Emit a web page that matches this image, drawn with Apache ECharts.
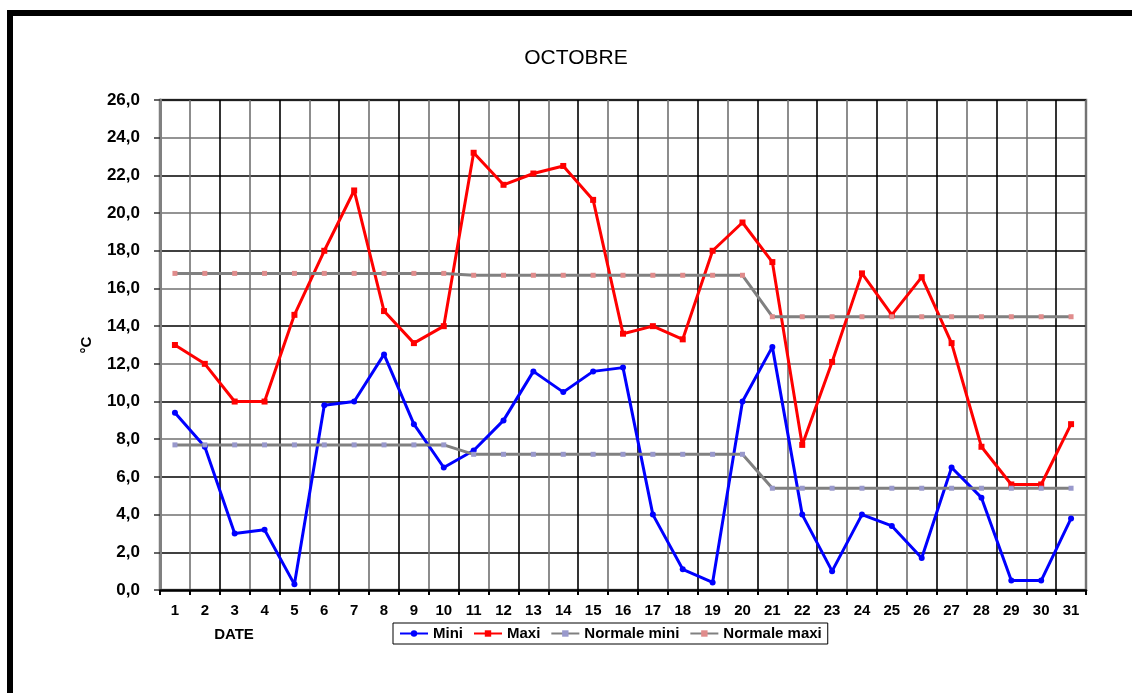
<!DOCTYPE html>
<html>
<head>
<meta charset="utf-8">
<title>OCTOBRE</title>
<script src="https://cdn.jsdelivr.net/npm/echarts@6/dist/echarts.min.js"></script>
<style>
  html, body { margin: 0; padding: 0; background: #fff; }
  #chart { width: 1132px; height: 693px; }
</style>
</head>
<body>
<div id="chart"></div>
<script>
// Days of the month
var days = ['1','2','3','4','5','6','7','8','9','10','11','12','13','14','15','16',
            '17','18','19','20','21','22','23','24','25','26','27','28','29','30','31'];

// Daily minimum temperatures (°C)
var mini = [9.4, 7.6, 3.0, 3.2, 0.3, 9.8, 10.0, 12.5, 8.8, 6.5, 7.4, 9.0, 11.6, 10.5, 11.6, 11.8,
            4.0, 1.1, 0.4, 10.0, 12.9, 4.0, 1.0, 4.0, 3.4, 1.7, 6.5, 4.9, 0.5, 0.5, 3.8];

// Daily maximum temperatures (°C)
var maxi = [13.0, 12.0, 10.0, 10.0, 14.6, 18.0, 21.2, 14.8, 13.1, 14.0, 23.2, 21.5, 22.1, 22.5, 20.7, 13.6,
            14.0, 13.3, 18.0, 19.5, 17.4, 7.7, 12.1, 16.8, 14.6, 16.6, 13.1, 7.6, 5.6, 5.6, 8.8];

// Seasonal normals, per ten-day period
var normaleMini = [7.7, 7.7, 7.7, 7.7, 7.7, 7.7, 7.7, 7.7, 7.7, 7.7,
                   7.2, 7.2, 7.2, 7.2, 7.2, 7.2, 7.2, 7.2, 7.2, 7.2,
                   5.4, 5.4, 5.4, 5.4, 5.4, 5.4, 5.4, 5.4, 5.4, 5.4, 5.4];
var normaleMaxi = [16.8, 16.8, 16.8, 16.8, 16.8, 16.8, 16.8, 16.8, 16.8, 16.8,
                   16.7, 16.7, 16.7, 16.7, 16.7, 16.7, 16.7, 16.7, 16.7, 16.7,
                   14.5, 14.5, 14.5, 14.5, 14.5, 14.5, 14.5, 14.5, 14.5, 14.5, 14.5];

var FONT = '"Liberation Sans", Arial, sans-serif';

var chart = echarts.init(document.getElementById('chart'), null, { renderer: 'canvas' });

function lineSeries(name, data, color, symbol, size, markerColor, width) {
  return {
    name: name,
    type: 'line',
    data: data,
    symbol: symbol,
    symbolSize: size,
    showSymbol: true,
    lineStyle: { color: color, width: width },
    itemStyle: { color: markerColor, borderColor: markerColor, borderWidth: 0 },
    emphasis: { disabled: true },
    animation: false
  };
}

chart.setOption({
  backgroundColor: '#ffffff',
  animation: false,
  textStyle: { fontFamily: FONT },
  grid: {
    left: 160, right: 46, top: 100, bottom: 103,
    show: true, borderColor: '#808080', borderWidth: 2.5, backgroundColor: 'transparent'
  },
  legend: {
    data: ['Mini', 'Maxi', 'Normale mini', 'Normale maxi'],
    left: 393, top: 623,
    orient: 'horizontal',
    itemWidth: 28, itemHeight: 8, itemGap: 10,
    padding: [3, 6, 3, 6],
    borderColor: '#000', borderWidth: 1,
    textStyle: { fontFamily: FONT, fontSize: 15, fontWeight: 'bold', color: '#000' },
    selectedMode: false
  },
  xAxis: {
    type: 'category',
    data: days,
    boundaryGap: true,
    axisLine: { show: true, lineStyle: { color: '#000', width: 2.5 } },
    axisTick: { show: true, alignWithLabel: false, length: 5, lineStyle: { color: '#000', width: 2 } },
    axisLabel: { margin: 13, fontFamily: FONT, fontSize: 15, fontWeight: 'bold', color: '#000' },
    splitLine: { show: true, interval: 0, lineStyle: { color: ['#000', '#707070'], width: 1.6 } }
  },
  yAxis: {
    type: 'value',
    min: 0, max: 26, interval: 2,
    name: '°C',
    nameLocation: 'middle',
    nameRotate: 90,
    nameGap: 66,
    nameTextStyle: { fontFamily: FONT, fontSize: 15, fontWeight: 'bold', color: '#000' },
    axisLine: { show: true, lineStyle: { color: '#808080', width: 3 } },
    axisTick: { show: true, length: 6, lineStyle: { color: '#333', width: 1.5 } },
    axisLabel: {
      margin: 20, fontFamily: FONT, fontSize: 17, fontWeight: 'bold', color: '#000',
      formatter: function (v) { return v.toFixed(1).replace('.', ','); }
    },
    splitLine: { show: true, lineStyle: { color: ['#707070', '#000'], width: 1.6 } }
  },
  graphic: [
    { type: 'line', shape: { x1: 10, y1: 10, x2: 10, y2: 693 }, style: { stroke: '#000', lineWidth: 6 } },
    { type: 'line', shape: { x1: 7, y1: 13, x2: 1132, y2: 13 }, style: { stroke: '#000', lineWidth: 6 } },
    { type: 'text', x: 576, y: 58,
      style: { text: 'OCTOBRE', fontFamily: FONT, fontSize: 21, fill: '#000', textAlign: 'center', textVerticalAlign: 'middle' } },
    { type: 'text', x: 234, y: 635,
      style: { text: 'DATE', fontFamily: FONT, fontSize: 15, fontWeight: 'bold', fill: '#000', textAlign: 'center', textVerticalAlign: 'middle' } }
  ],
  series: [
    lineSeries('Mini', mini, '#0000ff', 'circle', 6, '#0000ff', 3),
    lineSeries('Maxi', maxi, '#ff0000', 'rect', 6, '#ff0000', 3),
    lineSeries('Normale mini', normaleMini, '#808080', 'rect', 5, '#9999cc', 3),
    lineSeries('Normale maxi', normaleMaxi, '#808080', 'rect', 5, '#e08c8c', 3)
  ]
});
</script>
</body>
</html>
